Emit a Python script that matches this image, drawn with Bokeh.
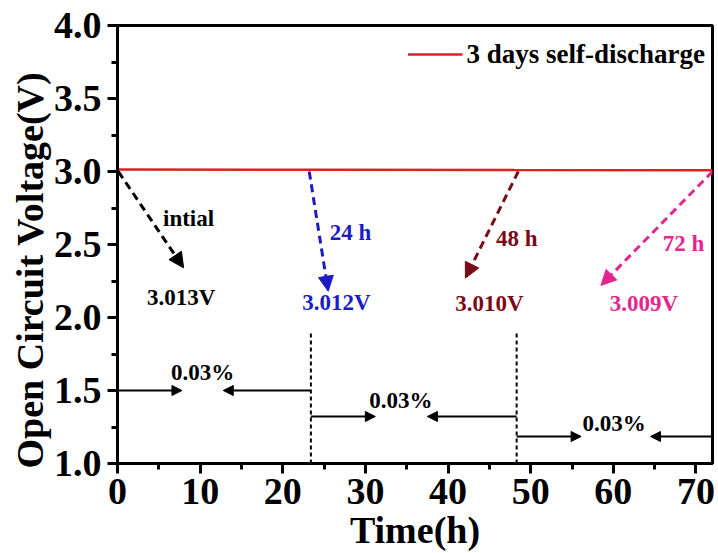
from bokeh.plotting import figure
from bokeh.models import Range1d, FixedTicker, Arrow, NormalHead, Legend, LegendItem, Title
from bokeh.core.properties import value
from bokeh.embed import file_html
from bokeh.resources import INLINE

# ---- data ----
time_h = [0, 24, 48, 72]
ocv = [3.013, 3.012, 3.010, 3.009]

x_ticks = [0, 10, 20, 30, 40, 50, 60, 70]
y_ticks = [1.0, 1.5, 2.0, 2.5, 3.0, 3.5, 4.0]
y_tick_labels = ["1.0", "1.5", "2.0", "2.5", "3.0", "3.5", "4.0"]

# diagonal (dashed) arrows: start / end in data coords
diag_x0 = [0.1, 23.2, 48.5, 72.0]
diag_y0 = [3.0, 3.0, 3.0, 3.0]
diag_x1 = [8.0, 25.5, 42.1, 58.5]
diag_y1 = [2.34, 2.18, 2.27, 2.22]
diag_colors = ["black", "#1c1cc4", "#7a0a16", "#e2288e"]

time_labels = ["intial", "24 h", "48 h", "72 h"]
time_label_x = [8.6, 28.2, 48.3, 68.5]
time_label_y = [2.678, 2.58, 2.54, 2.51]

volt_labels = ["3.013V", "3.012V", "3.010V", "3.009V"]
volt_label_x = [7.7, 26.5, 45.0, 63.7]
volt_label_y = [2.137, 2.10, 2.096, 2.096]

# vertical dashed dividers
div_x = [23.4, 48.3]
div_y0 = [1.0, 1.0]
div_y1 = [1.9, 1.9]

# horizontal solid arrows (pointing toward the % label)
h_x0 = [0.0, 23.4, 23.4, 48.3, 48.3, 72.0]
h_x1 = [7.8, 12.8, 31.2, 37.5, 56.1, 64.5]
h_y = [1.5, 1.5, 1.322, 1.322, 1.185, 1.185]

pct_labels = ["0.03%", "0.03%", "0.03%"]
pct_x = [10.3, 34.3, 60.1]
pct_y = [1.623, 1.432, 1.274]

y_title = "Open Circuit Voltage(V)"
x_title = "Time(h)"

FONT = "Liberation Serif"

p = figure(width=718, height=553, output_backend="svg", toolbar_location=None,
           x_range=Range1d(0, 72), y_range=Range1d(1.0, 4.0),
           min_border_top=25, min_border_right=6, min_border_left=117, min_border_bottom=0)
p.xgrid.visible = False
p.ygrid.visible = False
p.outline_line_color = "black"
p.outline_line_width = 3
p.outline_line_alpha = 1

# axes
p.xaxis.ticker = FixedTicker(ticks=x_ticks, minor_ticks=[v + 5 for v in x_ticks])
p.yaxis.ticker = FixedTicker(ticks=y_ticks, minor_ticks=[v + 0.25 for v in y_ticks[:-1]])
p.yaxis.major_label_overrides = {v: s for v, s in zip(y_ticks, y_tick_labels)}
p.xaxis.axis_label = x_title
for ax in (p.xaxis[0], p.yaxis[0]):
    ax.axis_line_width = 3
    ax.major_tick_line_width = 3
    ax.minor_tick_line_width = 3
    ax.major_tick_in = 0
    ax.major_tick_out = 10
    ax.minor_tick_in = 0
    ax.minor_tick_out = 6
    ax.major_label_text_font = FONT
    ax.major_label_text_font_style = "bold"
    ax.major_label_text_font_size = "38px"
    ax.major_label_text_color = "black"
    ax.axis_label_text_font = FONT
    ax.axis_label_text_font_style = "bold"
    ax.axis_label_text_font_size = "38px"
    ax.axis_label_text_color = "black"
p.xaxis.major_label_standoff = 5
p.xaxis.axis_label_standoff = 2
p.yaxis.major_label_standoff = 6

# y-axis title as a left-side title, offset along the axis like the reference
p.add_layout(Title(text=y_title, align="left", offset=-5, standoff=0,
                   text_font=FONT, text_font_style="bold", text_font_size="38px",
                   text_color="black"), "left")

# main line
r = p.line(time_h, ocv, line_color="#dd2222", line_width=2.5)
legend = Legend(items=[LegendItem(label="3 days self-discharge", renderers=[r])],
                location="top_right", border_line_alpha=0, background_fill_alpha=0,
                label_text_font=FONT, label_text_font_style="bold",
                label_text_font_size="27px", label_text_color="black",
                glyph_width=55, glyph_height=44, label_height=44, label_standoff=4,
                margin=0, padding=7)
p.add_layout(legend)

# diagonal dashed arrows
for x0, y0, x1, y1, c in zip(diag_x0, diag_y0, diag_x1, diag_y1, diag_colors):
    p.add_layout(Arrow(x_start=x0, y_start=y0, x_end=x1, y_end=y1,
                       line_color=c, line_width=3, line_dash="8 5",
                       end=NormalHead(size=15, fill_color=c, line_color=c, line_width=1)))

# labels
p.text(time_label_x, time_label_y, text=time_labels, text_color=diag_colors,
       text_font=value(FONT), text_font_style="bold", text_font_size="23px",
       text_align="center", text_baseline="middle")
p.text(volt_label_x, volt_label_y, text=volt_labels, text_color=diag_colors,
       text_font=value(FONT), text_font_style="bold", text_font_size="23px",
       text_align="center", text_baseline="middle")

# dividers
p.segment(div_x, div_y0, div_x, div_y1, line_color="black", line_width=2, line_dash="4 3")

# horizontal arrows
for x0, x1, y in zip(h_x0, h_x1, h_y):
    p.add_layout(Arrow(x_start=x0, y_start=y, x_end=x1, y_end=y,
                       line_color="black", line_width=2,
                       end=NormalHead(size=10, fill_color="black", line_color="black", line_width=1)))

p.text(pct_x, pct_y, text=pct_labels, text_color="black",
       text_font=value(FONT), text_font_style="bold", text_font_size="23px",
       text_align="center", text_baseline="middle")

open("out.html", "w").write(file_html(p, INLINE))
